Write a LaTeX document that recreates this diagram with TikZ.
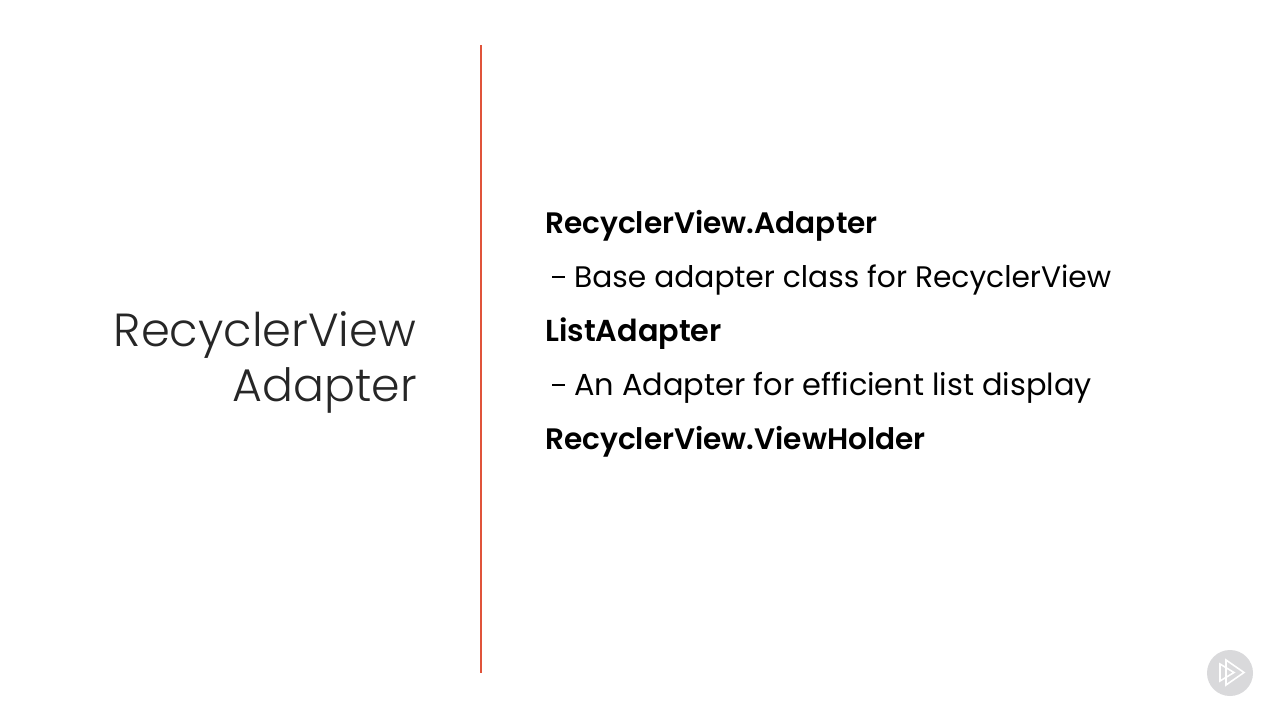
\documentclass[tikz,border=0pt]{standalone}
\usepackage{fontspec}
\setmainfont{Poppins}[UprightFont=* Regular,BoldFont=* SemiBold]
\newfontfamily\lightfont{Poppins Light}
\definecolor{rule}{HTML}{E0533A}
\definecolor{badge}{HTML}{D9D9DB}
\tikzset{
  x=1pt,y=-1pt,
  txt/.style={inner sep=0pt,anchor=base west,text=black},
  head/.style={txt,font=\fontsize{29.6}{29.6}\selectfont\bfseries},
  headwide/.style={txt,font=\fontsize{30.3}{30.3}\selectfont\bfseries},
  body/.style={txt,font=\fontsize{29.7}{29.7}\selectfont},
  bodywide/.style={txt,font=\fontsize{30.4}{30.4}\selectfont},
  title/.style={inner sep=0pt,anchor=base east,text=black!85,font=\lightfont\fontsize{46.4}{46.4}\selectfont},
  titlesmall/.style={title,font=\lightfont\fontsize{45.8}{45.8}\selectfont},
  dashmark/.style={line width=2pt,draw=black},
  iconline/.style={white,line width=1.6pt,line join=miter}
}
\begin{document}
\begin{tikzpicture}
\useasboundingbox (0,0) rectangle (1280,720);
\fill[white] (0,0) rectangle (1280,720);
\coordinate (ruleTop) at (481,45);
\coordinate (ruleBot) at (481,673);
\draw[rule,line width=2pt] (ruleTop) -- (ruleBot);
\node[title] (t1) at (416.5,346) {RecyclerView};
\node[titlesmall] (t2) at (417,401) {Adapter};
\node[head] (h1) at (545,233.5) {RecyclerView.Adapter};
\node[body] (b1) at (574,287.5) {Base adapter class for RecyclerView};
\node[headwide] (h2) at (545,341.5) {ListAdapter};
\node[bodywide] (b2) at (574,395.5) {An Adapter for efficient list display};
\node[head] (h3) at (545,449.5) {RecyclerView.ViewHolder};
\coordinate (d1a) at (552,276.5); \coordinate (d1b) at (565,276.5);
\coordinate (d2a) at (552,384.5); \coordinate (d2b) at (565,384.5);
\draw[dashmark] (d1a) -- (d1b);
\draw[dashmark] (d2a) -- (d2b);
\fill[badge] (1230,673) circle (23);
\draw[iconline] (1226,660) -- (1244,672.5) -- (1226,685) -- cycle;
\draw[iconline] (1220,664) -- (1234,672.5) -- (1220,681) -- cycle;
\end{tikzpicture}
\end{document}
